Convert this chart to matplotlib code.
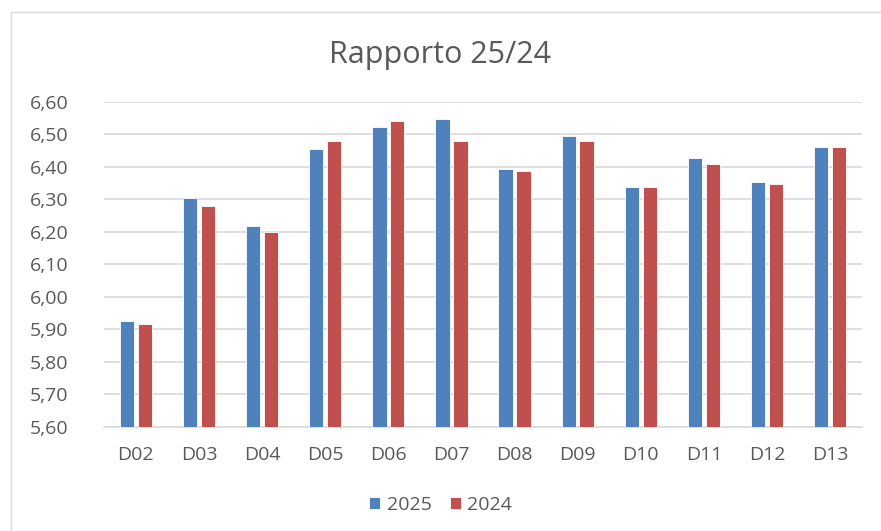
import matplotlib
matplotlib.use("Agg")
import matplotlib.pyplot as plt
from matplotlib.patches import Rectangle
from matplotlib.ticker import FuncFormatter, MultipleLocator
import numpy as np

categories = ["D02", "D03", "D04", "D05", "D06", "D07", "D08", "D09", "D10", "D11", "D12", "D13"]
values_2025 = [5.925, 6.303, 6.218, 6.455, 6.523, 6.546, 6.393, 6.495, 6.337, 6.427, 6.354, 6.460]
values_2024 = [5.918, 6.280, 6.200, 6.478, 6.540, 6.478, 6.388, 6.478, 6.337, 6.410, 6.348, 6.460]
series_names = ["2025", "2024"]

plt.rcParams['font.family'] = ['Open Sans', 'DejaVu Sans']
txt = "#595959"

fig = plt.figure(figsize=(8.81, 5.31), dpi=100)
fig.patches.append(Rectangle((10.5/881, -0.1), 1.2, (531-11.5)/531 + 0.1, transform=fig.transFigure,
                             facecolor="white", edgecolor="#d9d9d9", linewidth=1, zorder=0))
ax = fig.add_axes([104.3/881, (531-427)/531, (861.7-104.3)/881, (427-101.7)/531])
ax.set_facecolor("none")
ax.set_zorder(2)

x = np.arange(len(categories))
w = 0.228
ax.bar(x - 0.142, values_2025, width=w, color="#4F81BD", edgecolor="white", linewidth=0.6, label=series_names[0], zorder=3)
ax.bar(x + 0.142, values_2024, width=w, color="#C0504D", edgecolor="white", linewidth=0.6, label=series_names[1], zorder=3)

ax.set_ylim(5.60, 6.60)
ax.set_xlim(-0.5, len(categories) - 0.5)
ax.yaxis.set_major_locator(MultipleLocator(0.1))
ax.yaxis.set_major_formatter(FuncFormatter(lambda v, p: f"{v:.2f}".replace(".", ",")))
ax.set_xticks(x)
ax.set_xticklabels(categories)
ax.grid(axis="y", color="#d9d9d9", linewidth=1.2, zorder=0)
for s in ["top", "right", "left"]:
    ax.spines[s].set_visible(False)
ax.spines["bottom"].set_color("#d9d9d9")
ax.spines["bottom"].set_linewidth(1.2)
ax.tick_params(axis="both", length=0, labelsize=14, colors=txt)
ax.tick_params(axis="y", pad=26)
ax.tick_params(axis="x", pad=14)

fig.text(0.5, (531-62.7)/531, "Rapporto 25/24", ha="center", va="baseline", fontsize=22, color=txt)

leg = fig.legend(loc="center", bbox_to_anchor=(0.5, (531-504.5)/531), ncol=2, frameon=False,
                 fontsize=14, handlelength=0.57, handleheight=0.57, handletextpad=0.34, columnspacing=0.93)
for t in leg.get_texts():
    t.set_color(txt)

fig.savefig("out.png", dpi=100)
